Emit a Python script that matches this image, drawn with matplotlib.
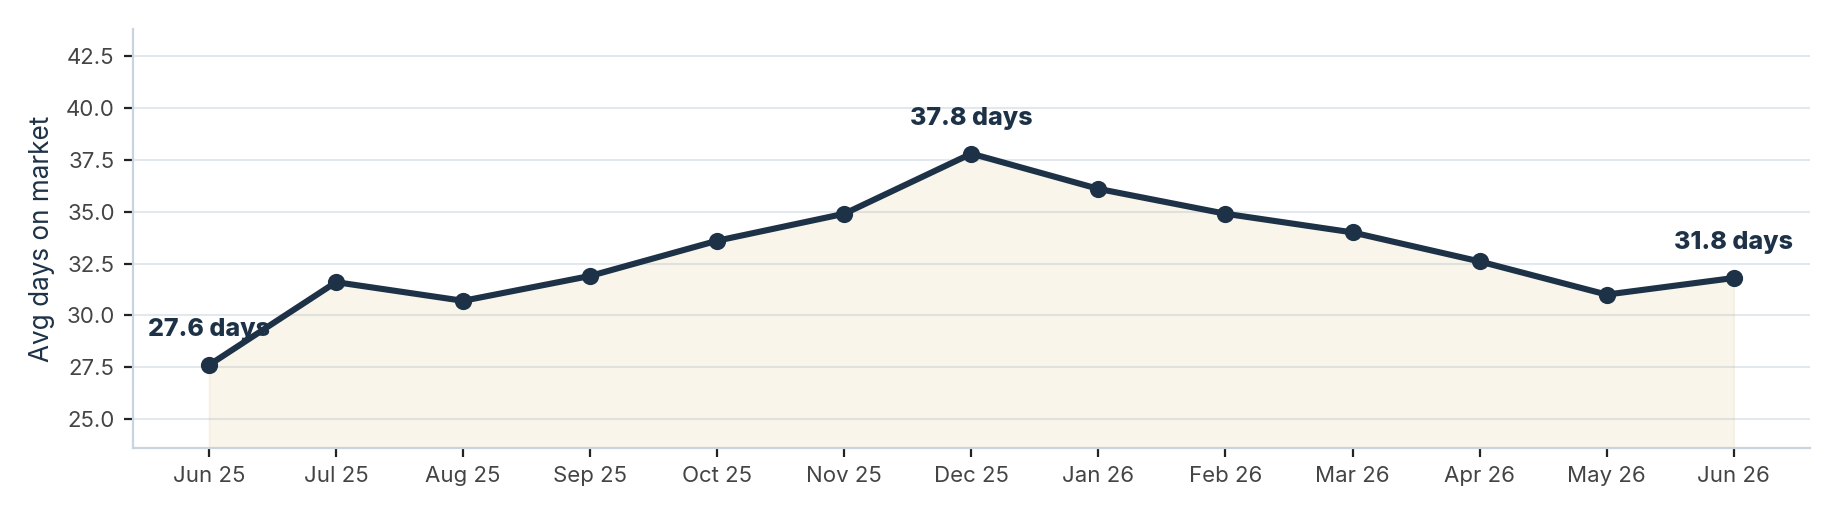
import matplotlib
matplotlib.use("Agg")
import matplotlib.pyplot as plt

months = ["Jun 25", "Jul 25", "Aug 25", "Sep 25", "Oct 25", "Nov 25", "Dec 25",
          "Jan 26", "Feb 26", "Mar 26", "Apr 26", "May 26", "Jun 26"]
avg_days = [27.6, 31.6, 30.7, 31.9, 33.6, 34.9, 37.8, 36.1, 34.9, 34.0, 32.6, 31.0, 31.8]
labelled_idx = [0, 6, 12]

plt.rcParams['font.family'] = ['Inter', 'DejaVu Sans']

NAVY = '#1e3247'
fig = plt.figure(figsize=(1839 / 200, 520 / 200), dpi=200)
ax = fig.add_axes([0.0722, 0.1385, 0.9842 - 0.0722, 0.9437 - 0.1385])

x = list(range(len(months)))
ax.fill_between(x, avg_days, 23.6, color='#c9a450', alpha=0.11, linewidth=0.6, zorder=2)
ax.plot(x, avg_days, color=NAVY, lw=2.2, marker='o', markersize=5.2, zorder=4)

for i in labelled_idx:
    ax.annotate(f"{avg_days[i]:.1f} days", (x[i], avg_days[i]), xytext=(0, 8.5),
                textcoords='offset points', ha='center', va='bottom',
                fontsize=9.0, fontweight='heavy', color=NAVY, zorder=3)

ax.set_xlim(-0.6, 12.6)
ax.set_ylim(23.6, 43.8)
ax.set_xticks(x)
ax.set_xticklabels(months)
ax.set_yticks([25.0, 27.5, 30.0, 32.5, 35.0, 37.5, 40.0, 42.5])
ax.set_yticklabels(["25.0", "27.5", "30.0", "32.5", "35.0", "37.5", "40.0", "42.5"])
ax.grid(axis='y', color='#e3e8ee', lw=0.75, zorder=1)
ax.set_axisbelow(True)
for s in ['top', 'right']:
    ax.spines[s].set_visible(False)
for s in ['left', 'bottom']:
    ax.spines[s].set_color('#c9d4de')
    ax.spines[s].set_linewidth(0.8)
ax.tick_params(axis='both', length=3.3, width=0.8, color='#222222', labelcolor='#444444',
               labelsize=8.0, pad=3.2)
ax.set_ylabel("Avg days on market", fontsize=9.4, color=NAVY, labelpad=4)

fig.savefig("out.png", dpi=200)
